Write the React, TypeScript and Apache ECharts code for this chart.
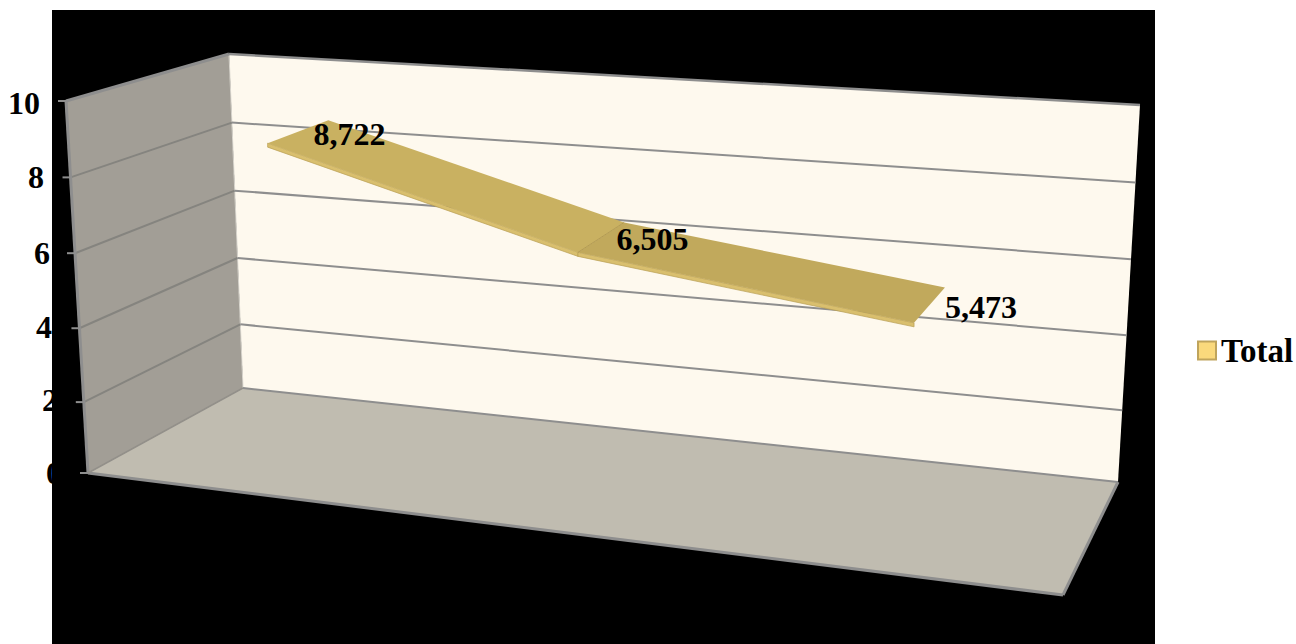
import React, { useEffect, useRef } from "react";
import * as echarts from "echarts";

const categories = ["1", "2", "3"];
const totals = [8722, 6505, 5473];
const axisMax = 10000;
const axisStep = 2000;
const axisTicks = [0, 2000, 4000, 6000, 8000, 10000];
const seriesName = "Total";
const FONT = '"Liberation Serif", "Times New Roman", serif';

const GRID = { left: 65, top: 103, width: 1000, height: 370 };

// eight corners of the 3-D room on screen [x, y]: b = back, f = front, l/r, 0 = floor, 1 = top
const bl0 = [243, 388], bl1 = [229, 54], br0 = [1118, 482], br1 = [1140, 105];
const fl0 = [88, 473], fl1 = [66, 101], fr0 = [1063, 595], fr1 = [1085, 175];

const mix = (a: number[], b: number[], t: number) => [a[0] + (b[0] - a[0]) * t, a[1] + (b[1] - a[1]) * t];
const warpW = (w: number) => Math.pow(w, 1.03);
// the slight perspective along the category direction
const warpU = (u: number) => 0.0008 + 0.8589 * u + 0.1404 * u * u;
// u along categories, v depth (0 back .. 1 front), w height
function project(u: number, v: number, w: number) {
  const h = warpW(w);
  const left = mix(mix(bl0, bl1, h), mix(fl0, fl1, h), v);
  const right = mix(mix(br0, br1, h), mix(fr0, fr1, h), v);
  return mix(left, right, u);
}
const RIBBON_BACK = 0.25;
const RIBBON_FRONT = 0.665;
const THICK = 4;

function poly(points: number[][], style: any, z2 = 0) {
  return { type: "polygon", shape: { points }, style, z2, silent: true };
}
function seg(a: number[], b: number[], stroke: string, lineWidth: number, z2 = 1) {
  return {
    type: "line",
    shape: { x1: a[0], y1: a[1], x2: b[0], y2: b[1] },
    style: { stroke, lineWidth, lineCap: "butt" },
    z2,
    silent: true,
  };
}

function renderRoom() {
  const EDGE = "#8E8E8E";
  const children: any[] = [
    poly([bl0, br0, br1, bl1], { fill: "#FEF9EE" }),
    poly([fl0, bl0, bl1, fl1], { fill: "#A29E96" }),
    poly([fl0, fr0, br0, bl0], { fill: "#C0BCB0" }),
    seg(fl1, bl1, EDGE, 3, 2),
    seg(bl1, br1, EDGE, 2.5, 2),
    seg(fl1, fl0, EDGE, 3, 2),
    seg(fl0, fr0, EDGE, 3, 2),
    seg(fr0, br0, EDGE, 3, 2),
    seg(fl0, bl0, "#93908A", 1.5, 2),
    seg(bl0, br0, EDGE, 2, 2),
    seg(bl1, bl0, "#D9D6CE", 1, 1),
  ];
  axisTicks.forEach((t) => {
    const w = t / axisMax;
    const f = project(0, 1, w);
    const b = project(0, 0, w);
    const r = project(1, 0, w);
    if (t > 0 && t < axisMax) {
      children.push(seg(f, b, "#85847F", 2, 1));
      children.push(seg(b, r, EDGE, 2, 1));
    }
    children.push(seg([f[0] - 8, f[1]], f, EDGE, 2, 2));
  });
  return { type: "group", children };
}

function renderRibbon(params: any, api: any) {
  const i = params.dataIndex;
  const toUW = (idx: number) => {
    const c = api.coord([idx, totals[idx]]);
    return {
      u: warpU((c[0] - GRID.left) / GRID.width),
      w: (GRID.top + GRID.height - c[1]) / GRID.height,
    };
  };
  const p = toUW(i);
  const back = project(p.u, RIBBON_BACK, p.w);
  const front = project(p.u, RIBBON_FRONT, p.w);
  const children: any[] = [];
  if (i < totals.length - 1) {
    const n = toUW(i + 1);
    const back2 = project(n.u, RIBBON_BACK, n.w);
    const front2 = project(n.u, RIBBON_FRONT, n.w);
    children.push(
      poly(
        [front, front2, [front2[0], front2[1] + THICK], [front[0], front[1] + THICK]],
        { fill: "#D9BF6E", stroke: "#B99F55", lineWidth: 0.7 },
        1,
      ),
      poly([back, back2, front2, front], { fill: i === 0 ? "#C9B161" : "#C1A95C" }, 2),
    );
    if (i > 0) children.push(seg(back, front, "#B39B52", 1, 3));
  }
  const cx = (back[0] + front[0]) / 2;
  const cy = (back[1] + front[1]) / 2;
  children.push({
    type: "text",
    z2: 50,
    silent: true,
    style: {
      x: cx + 51.5,
      y: cy + 2,
      text: totals[i].toLocaleString("en-US"),
      fill: "#000",
      font: `bold 32px ${FONT}`,
      align: "center",
      verticalAlign: "middle",
    },
  });
  return { type: "group", children };
}

const labelPad: Record<string, number> = { "10": 25, "8": 21, "6": 15, "4": 13, "2": 7, "0": 3 };
const labelDrop: Record<string, number> = { "10": 0, "8": 0, "6": 4, "4": 4, "2": 2, "0": 0 };

export default function App() {
  const ref = useRef<HTMLDivElement>(null);
  useEffect(() => {
    document.body.style.margin = "0";
    const chart = echarts.init(ref.current!, null, { renderer: "svg" });
    chart.setOption({
      animation: false,
      backgroundColor: "#fff",
      graphic: [
        { type: "rect", z: -1, silent: true, shape: { x: 52, y: 10, width: 1103, height: 634 }, style: { fill: "#000" } },
      ],
      grid: { ...GRID },
      xAxis: {
        type: "category",
        data: categories,
        axisLine: { show: false },
        axisTick: { show: false },
        axisLabel: { show: false },
      },
      yAxis: {
        type: "value",
        min: 0,
        max: axisMax,
        interval: axisStep,
        axisLine: { show: false },
        axisTick: { show: false },
        splitLine: { show: false },
        axisLabel: {
          margin: 0,
          formatter: (v: number) => `{v${v / 1000}|${v / 1000}}`,
          rich: Object.fromEntries(
            Object.entries(labelPad).map(([k, pad]) => [
              `v${k}`,
              { fontFamily: FONT, fontWeight: "bold", fontSize: 32, color: "#000", padding: [labelDrop[k], pad, 0, 0] },
            ]),
          ),
        },
      },
      legend: {
        left: 1197,
        top: 334,
        padding: 0,
        orient: "vertical",
        itemWidth: 18,
        itemHeight: 18,
        itemGap: 0,
        selectedMode: false,
        data: [
          {
            name: seriesName,
            icon: "rect",
            itemStyle: { color: "#FAD97C", borderColor: "#BFA45C", borderWidth: 2 },
          },
        ],
        textStyle: { fontFamily: FONT, fontWeight: "bold", fontSize: 33, color: "#000" },
      },
      series: [
        {
          type: "custom",
          name: "room",
          z: 1,
          silent: true,
          coordinateSystem: "cartesian2d",
          data: [[0, 0]],
          renderItem: renderRoom,
          clip: false,
        },
        {
          type: "custom",
          name: seriesName,
          z: 3,
          silent: true,
          coordinateSystem: "cartesian2d",
          encode: { x: 0, y: 1 },
          data: totals.map((v, i) => [i, v]),
          renderItem: renderRibbon,
          clip: false,
        },
      ],
    });
    return () => chart.dispose();
  }, []);
  return <div ref={ref} style={{ position: "fixed", left: 0, top: 0, width: 1296, height: 644 }} />;
}
